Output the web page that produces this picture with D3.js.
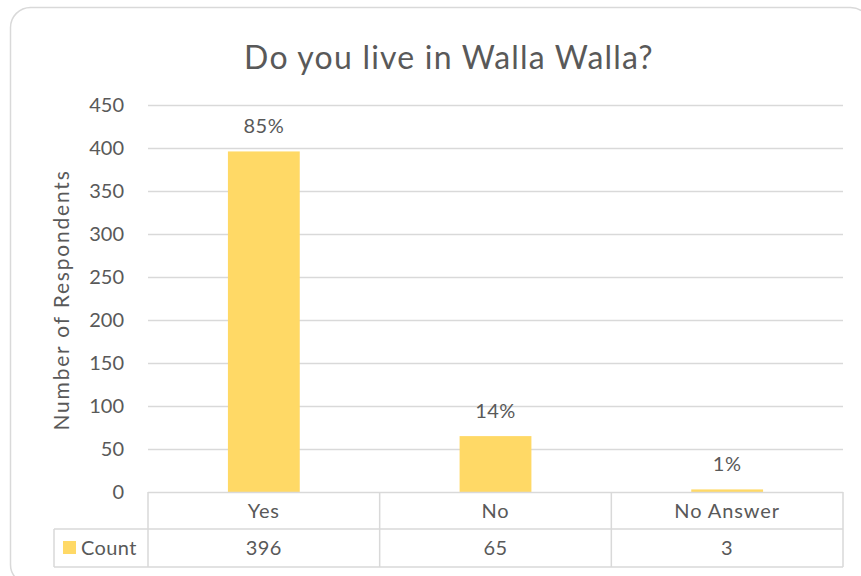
<!DOCTYPE html>
<html><head><meta charset="utf-8">
<script src="https://cdn.jsdelivr.net/npm/d3@7"></script>
<style>body{margin:0;background:#fff}svg{display:block}text{font-family:Lato,"Open Sans",sans-serif;fill:#595959}</style>
</head><body><svg id="c" width="861" height="576"></svg>
<script>
const categories = ["Yes", "No", "No Answer"];
const counts = [396, 65, 3];
const pctLabels = ["85%", "14%", "1%"];
const yTicks = [0, 50, 100, 150, 200, 250, 300, 350, 400, 450];
const seriesName = "Count";
const title = "Do you live in Walla Walla?";
const yTitle = "Number of Respondents";

const svg = d3.select("#c");
const grid = "#d9d9d9", barColor = "#ffd966";
const L = 148, R = 843, T = 105, B = 492, row1 = 529, row2 = 567, legL = 54;

svg.append("rect").attr("x", 10.5).attr("y", 7.5).attr("width", 860).attr("height", 577)
  .attr("rx", 20).attr("fill", "#fff").attr("stroke", grid).attr("stroke-width", 1.5);

const y = d3.scaleLinear().domain([0, 450]).range([B, T]);
const xCell = d3.scaleBand().domain(categories).range([L, R]).padding(0);
const xBar = d3.scaleBand().domain(categories).range([L, R]).paddingInner(0.69).paddingOuter(0.345);

// gridlines
svg.append("g").selectAll("line").data(yTicks.filter(d => d > 0)).join("line")
  .attr("x1", L).attr("x2", R).attr("y1", d => Math.round(y(d)) + 0.5).attr("y2", d => Math.round(y(d)) + 0.5)
  .attr("stroke", grid).attr("stroke-width", 1.5);

// y tick labels
svg.append("g").selectAll("text").data(yTicks).join("text")
  .attr("x", 124).attr("y", d => y(d)).attr("dy", "0.36em").attr("text-anchor", "end")
  .attr("font-size", 20).text(d => d);

// bars
svg.append("g").selectAll("rect").data(categories).join("rect")
  .attr("x", d => xBar(d)).attr("width", xBar.bandwidth())
  .attr("y", (d, i) => y(counts[i])).attr("height", (d, i) => B - y(counts[i]))
  .attr("fill", barColor);

// data labels
svg.append("g").selectAll("text").data(categories).join("text")
  .attr("x", d => xBar(d) + xBar.bandwidth() / 2).attr("y", (d, i) => y(counts[i]) - 18)
  .attr("text-anchor", "middle").attr("font-size", 20).attr("letter-spacing", 0.5).text((d, i) => pctLabels[i]);

// table lines
const tl = svg.append("g").attr("stroke", grid).attr("stroke-width", 1.5).attr("fill", "none");
tl.append("line").attr("x1", L).attr("x2", R).attr("y1", B + 0.5).attr("y2", B + 0.5);
tl.append("line").attr("x1", legL).attr("x2", R).attr("y1", row1).attr("y2", row1);
tl.append("line").attr("x1", legL).attr("x2", R).attr("y1", row2).attr("y2", row2);
tl.append("line").attr("x1", legL).attr("x2", legL).attr("y1", row1).attr("y2", row2);
const edges = categories.map(c => xCell(c)).concat([R]);
tl.selectAll(".v").data(edges).join("line").attr("class", "v")
  .attr("x1", d => d).attr("x2", d => d).attr("y1", B).attr("y2", row2);

// category labels
svg.append("g").selectAll("text").data(categories).join("text")
  .attr("x", d => xCell(d) + xCell.bandwidth() / 2).attr("y", (B + row1) / 2).attr("dy", "0.36em")
  .attr("text-anchor", "middle").attr("font-size", 20).attr("letter-spacing", 0.9).text(d => d);
// values
svg.append("g").selectAll("text").data(categories).join("text")
  .attr("x", d => xCell(d) + xCell.bandwidth() / 2).attr("y", (row1 + row2) / 2).attr("dy", "0.36em")
  .attr("text-anchor", "middle").attr("font-size", 20).attr("letter-spacing", 0.5).text((d, i) => counts[i]);

// legend key
svg.append("rect").attr("x", 63).attr("y", 541).attr("width", 13).attr("height", 13).attr("fill", barColor);
svg.append("text").attr("x", 81).attr("y", (row1 + row2) / 2).attr("dy", "0.36em")
  .attr("font-size", 20).attr("letter-spacing", 0.4).text(seriesName);

// title
svg.append("text").attr("x", 449).attr("y", 57).attr("dy", "0.36em").attr("text-anchor", "middle")
  .attr("font-size", 32).attr("letter-spacing", 1.2).text(title);

// y title
svg.append("text").attr("transform", "translate(61,300) rotate(-90)").attr("dy", "0.36em")
  .attr("text-anchor", "middle").attr("font-size", 21).attr("letter-spacing", 1.8).text(yTitle);
</script></body></html>
